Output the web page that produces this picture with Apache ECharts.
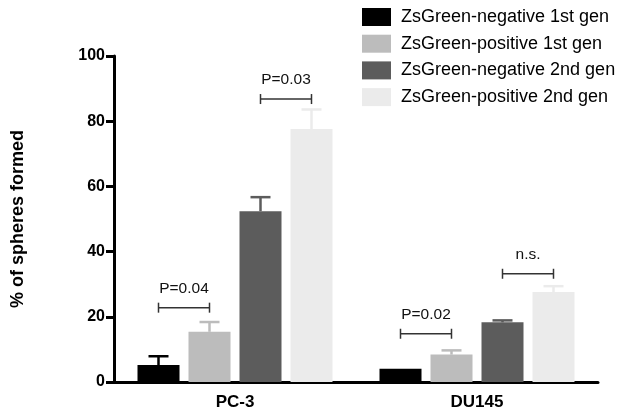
<!DOCTYPE html>
<html>
<head>
<meta charset="utf-8">
<script src="https://cdn.jsdelivr.net/npm/echarts@6/dist/echarts.min.js"></script>
<style>html,body{margin:0;padding:0;background:#fff;}#c{width:629px;height:415px;}</style>
</head>
<body>
<div id="c"></div>
<script>
var categories = ['PC-3', 'DU145'];
var seriesNames = ['ZsGreen-negative 1st gen', 'ZsGreen-positive 1st gen', 'ZsGreen-negative 2nd gen', 'ZsGreen-positive 2nd gen'];
var neg1 = [5.2, 4.1];
var neg1Err = [2.7, 0];
var pos1 = [15.4, 8.4];
var pos1Err = [3.0, 1.3];
var neg2 = [52.4, 18.3];
var neg2Err = [4.3, 0.6];
var pos2 = [77.6, 27.6];
var pos2Err = [6.0, 1.8];
var yTicks = [0, 20, 40, 60, 80, 100];
// significance brackets: category index, bar from, bar to, height, label
var bracketCat = [0, 0, 1, 1];
var bracketFrom = [0, 2, 0, 2];
var bracketTo = [1, 3, 1, 3];
var bracketY = [22.8, 86.8, 14.8, 33.2];
var bracketLabel = ['P=0.04', 'P=0.03', 'P=0.02', 'n.s.'];

var colors = ['#000000', '#bcbcbc', '#5c5c5c', '#ebebeb'];
var values = [neg1, pos1, neg2, pos2];
var errs = [neg1Err, pos1Err, neg2Err, pos2Err];
var BAR_W = 42, BAR_GAP = 9;
function offsetOf(i) { return (i - 1.5) * (BAR_W + BAR_GAP); }
var FONT = '"Liberation Sans", Arial, sans-serif';

var series = [];
values.forEach(function (v, i) {
  series.push({
    name: seriesNames[i], type: 'bar', data: v,
    barWidth: BAR_W, barGap: (BAR_GAP / BAR_W * 100) + '%',
    itemStyle: { color: colors[i] }, z: 2
  });
});
values.forEach(function (v, i) {
  var d = categories.map(function (c, k) { return [k, v[k], v[k] + errs[i][k]]; });
  series.push({
    type: 'custom', z: 1, silent: true,
    data: d,
    renderItem: function (params, api) {
      var lo = api.value(1), hi = api.value(2);
      if (hi - lo <= 0.05) return null;
      var p0 = api.coord([api.value(0), lo]);
      var p1 = api.coord([api.value(0), hi]);
      var x = p0[0] + offsetOf(i);
      var st = { stroke: colors[i], lineWidth: 2.5 };
      return { type: 'group', children: [
        { type: 'line', shape: { x1: x, y1: p0[1], x2: x, y2: p1[1] }, style: st },
        { type: 'line', shape: { x1: x - 10, y1: p1[1], x2: x + 10, y2: p1[1] }, style: st }
      ]};
    }
  });
});
series.push({
  type: 'custom', z: 3, silent: true,
  data: bracketCat.map(function (c, k) { return [c, bracketY[k], bracketFrom[k], bracketTo[k], bracketLabel[k]]; }),
  renderItem: function (params, api) {
    var p = api.coord([api.value(0), api.value(1)]);
    var x1 = p[0] + offsetOf(api.value(2));
    var x2 = p[0] + offsetOf(api.value(3));
    var y = p[1];
    var st = { stroke: '#333', lineWidth: 1.5 };
    return { type: 'group', children: [
      { type: 'line', shape: { x1: x1, y1: y, x2: x2, y2: y }, style: st },
      { type: 'line', shape: { x1: x1, y1: y - 5, x2: x1, y2: y + 5 }, style: st },
      { type: 'line', shape: { x1: x2, y1: y - 5, x2: x2, y2: y + 5 }, style: st },
      { type: 'text', style: { text: bracketLabel[params.dataIndex], x: (x1 + x2) / 2, y: y - 11,
        align: 'center', verticalAlign: 'bottom', font: '15.5px ' + FONT, fill: '#111' } }
    ]};
  }
});

var chart = echarts.init(document.getElementById('c'));
chart.setOption({
  animation: false,
  backgroundColor: '#fff',
  grid: { left: 114, top: 56, right: 31, bottom: 33, containLabel: false },
  legend: {
    data: seriesNames, orient: 'vertical', left: 357, top: 3,
    itemWidth: 29, itemHeight: 18, itemGap: 8.7, icon: 'rect',
    textStyle: { fontSize: 18, fontFamily: FONT, color: '#000', padding: [0, 0, 0, 5] },
    selectedMode: false
  },
  xAxis: {
    type: 'category', data: categories,
    axisLine: { lineStyle: { color: '#000', width: 3 } },
    axisTick: { alignWithLabel: true, length: 8, lineStyle: { width: 3, color: '#000' } },
    axisLabel: { fontSize: 17, fontWeight: 'bold', fontFamily: FONT, color: '#000', margin: 12 }
  },
  yAxis: {
    type: 'value', min: 0, max: 100, interval: 20,
    name: '% of spheres formed', nameLocation: 'middle', nameGap: 87, nameRotate: 90,
    nameTextStyle: { fontSize: 18, fontWeight: 'bold', fontFamily: FONT, color: '#000' },
    axisLine: { show: true, lineStyle: { color: '#000', width: 3 } },
    axisTick: { show: true, length: 8, lineStyle: { width: 3, color: '#000' } },
    splitLine: { show: false },
    axisLabel: { fontSize: 16, fontWeight: 'bold', fontFamily: FONT, color: '#000', margin: 9,
      formatter: function (v) { return yTicks.indexOf(v) >= 0 ? String(v) : ''; } }
  },
  series: series
});
</script>
</body>
</html>
